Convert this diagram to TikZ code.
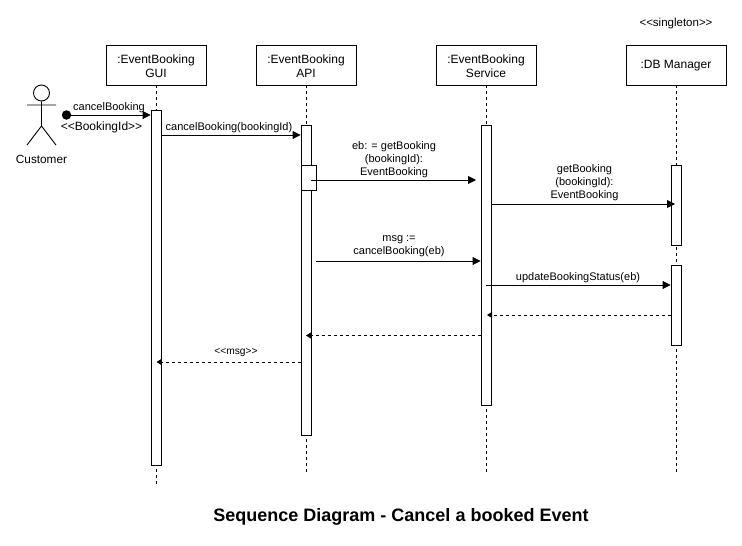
\documentclass[tikz,border=0pt]{standalone}
\usepackage{fontspec}
\setmainfont{Liberation Sans}
\usetikzlibrary{arrows.meta}
\tikzset{
  x=1pt,y=-1pt,
  party/.style={draw,fill=white,line width=0.9pt,minimum width=100pt,minimum height=40pt,inner sep=0pt,align=center,font=\fontsize{12}{14}\selectfont},
  bar/.style={draw,fill=white,line width=0.9pt,minimum width=10pt,inner sep=0pt,anchor=north},
  subbar/.style={draw,fill=white,line width=0.9pt,minimum width=15pt,minimum height=25pt,inner sep=0pt,anchor=north west},
  life/.style={line width=0.8pt,dash pattern=on 3pt off 3pt},
  msg/.style={line width=0.9pt,-{Triangle[length=8pt,width=8pt]}},
  ret/.style={line width=0.8pt,dash pattern=on 3pt off 3pt,-{Triangle[length=5pt,width=6pt]}},
  lbl/.style={inner sep=0pt,align=center,font=\fontsize{11}{13}\selectfont},
  ptext/.style={inner sep=0pt,align=center,font=\fontsize{12}{14}\selectfont},
}
\begin{document}
\begin{tikzpicture}
\useasboundingbox (0,0) rectangle (742,546);
\fill[white] (0,0) rectangle (742,546);
% parties
\node[party] (gui) at (156,65) {};
\node[party] (api) at (306,65) {};
\node[party] (svc) at (486,65) {};
\node[party] (db) at (676,65) {};
\node[ptext] (guit) at (156,66) {:EventBooking\\GUI};
\node[ptext] (apit) at (306,66) {:EventBooking\\API};
\node[ptext] (svct) at (486,66) {:EventBooking\\Service};
\node[ptext] (dbt) at (676,66) {:DB Manager};
\node[lbl,font=\fontsize{11.5}{13}\selectfont] (single) at (676,24) {<{}<singleton>{}>};
% lifeline ends
\coordinate (guiend) at (156,485);
\coordinate (apiend) at (306,473);
\coordinate (svcend) at (486,473);
\coordinate (dbend) at (676,473);
\draw[life] (gui.south) -- (guiend);
\draw[life] (api.south) -- (apiend);
\draw[life] (svc.south) -- (svcend);
\draw[life] (db.south) -- (dbend);
% activations
\node[bar,minimum height=355pt] (guibar) at (156,110) {};
\node[bar,minimum height=310pt] (apibar) at (306,125) {};
\node[subbar] (apisub) at (301,165) {};
\node[bar,minimum height=280pt] (svcbar) at (486,125) {};
\node[bar,minimum height=80pt] (dbbara) at (676,165) {};
\node[bar,minimum height=80pt] (dbbarb) at (676,265) {};
% actor
\node[draw,circle,line width=0.9pt,minimum size=16pt,inner sep=0pt] (head) at (41.5,93) {};
\coordinate (hip) at (41.5,126);
\coordinate (armL) at (27,105);
\coordinate (armR) at (56,105);
\coordinate (footL) at (27,145);
\coordinate (footR) at (56,145);
\draw[line width=0.9pt] (head.south) -- (hip) (armL) -- (armR) (footL) -- (hip) -- (footR);
\node[inner sep=0pt,font=\fontsize{11.8}{14}\selectfont] (customer) at (41.5,159.5) {Customer};
% found message
\node[circle,fill=black,minimum size=9.5pt,inner sep=0pt] (start) at (66.5,115) {};
\draw[msg] (start.center) -- (guibar.north west |- start.center);
\node[lbl] (l1) at (109,107.5) {cancelBooking};
\node[lbl,font=\fontsize{12}{14}\selectfont] (l1b) at (101.5,127.5) {<{}<BookingId>{}>};
% messages
\coordinate (m2) at (0,135);
\draw[msg] (guibar.east |- m2) -- (apibar.west |- m2);
\node[lbl] (l2) at (229,128) {cancelBooking(bookingId)};
\coordinate (m3) at (311,180);
\coordinate (m3e) at (476,180);
\draw[msg] (m3) -- (m3e);
\node[lbl] (l3) at (394,160) {eb: = getBooking\\(bookingId):\\EventBooking};
\coordinate (m4) at (0,204);
\coordinate (m4e) at (675,204);
\draw[msg] (svcbar.east |- m4) -- (m4e);
\node[lbl] (l4) at (584.5,183) {getBooking\\(bookingId):\\EventBooking};
\coordinate (m5) at (316,261);
\draw[msg] (m5) -- (svcbar.west |- m5);
\node[lbl] (l5) at (399,246.5) {msg :=\\cancelBooking(eb)};
\coordinate (m6) at (486,285);
\draw[msg] (m6) -- (dbbarb.west |- m6);
\node[lbl] (l6) at (578,277.5) {updateBookingStatus(eb)};
% returns
\coordinate (m7) at (0,315);
\coordinate (m7e) at (487,315);
\draw[ret] (dbbarb.west |- m7) -- (m7e);
\coordinate (m8) at (481,335.5);
\coordinate (m8e) at (306,335.5);
\draw[ret] (m8) -- (m8e);
\coordinate (m9) at (301,362);
\coordinate (m9e) at (156.5,362);
\draw[ret] (m9) -- (m9e);
\node[lbl,font=\fontsize{10.2}{12}\selectfont] (l9) at (236,352.5) {<{}<msg>{}>};
% title
\node[inner sep=0pt,font=\fontsize{18}{22}\selectfont\bfseries] (title) at (401,516.5) {Sequence Diagram - Cancel a booked Event};
\end{tikzpicture}
\end{document}
